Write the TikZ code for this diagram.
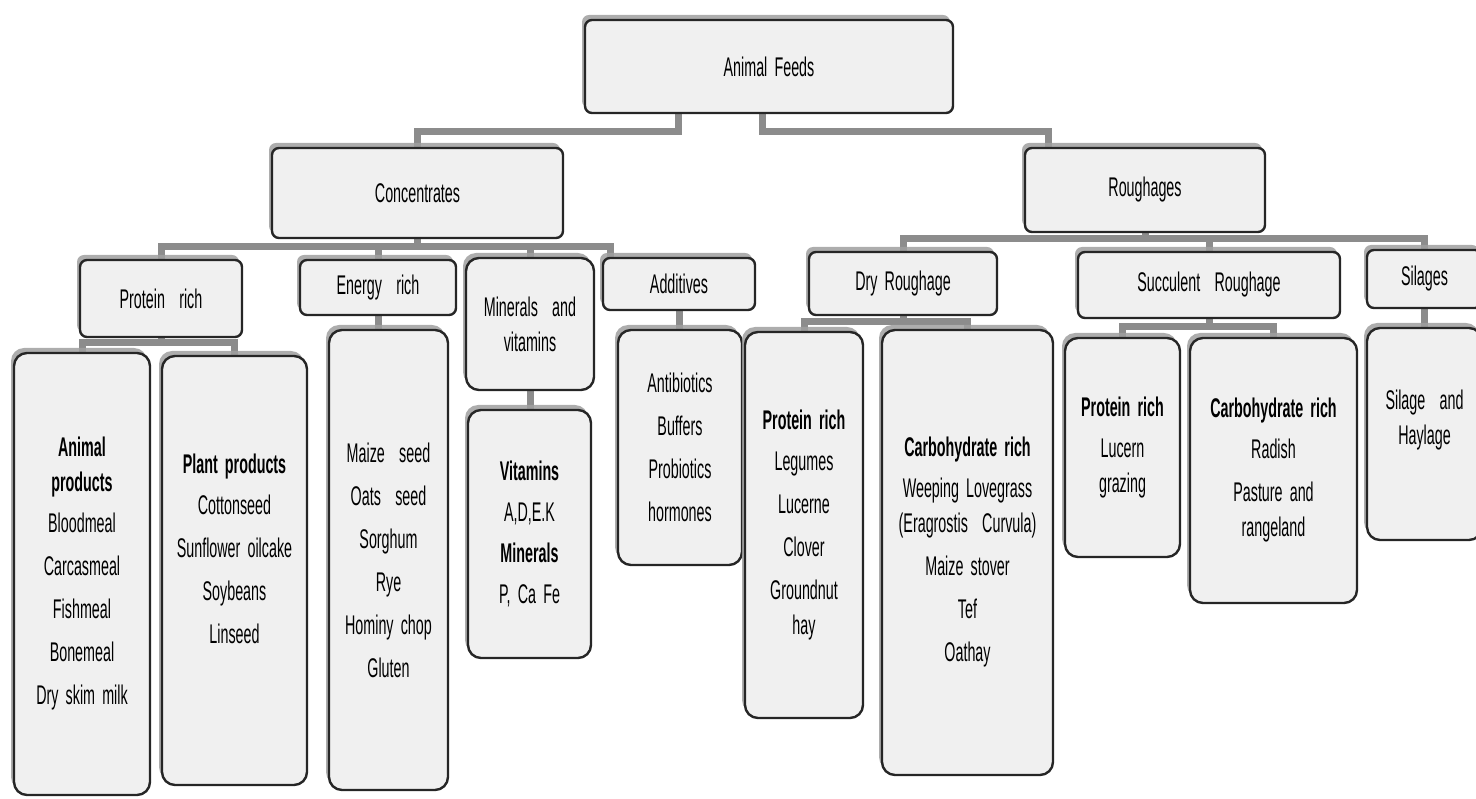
\documentclass[tikz,border=0pt]{standalone}
\usepackage{fontspec}
\setmainfont{Liberation Sans}[FakeStretch=0.53, WordSpace=1.8]
\usetikzlibrary{shadows,backgrounds}

\tikzset{
  boxsize/.style n args={2}{minimum width=#1, minimum height=#2}
}

\begin{document}
\begin{tikzpicture}[
    x=0.5pt, y=0.5pt,
    every node/.style={font=\fontsize{13.5}{17.5}\selectfont, align=center},
    headbox/.style={draw=black!85, line width=1.2pt, fill=gray!12, rounded corners=3.5pt,
      drop shadow={shadow xshift=-1.5pt, shadow yshift=2.5pt, fill=gray!75, opacity=.85}},
    itembox/.style={headbox, rounded corners=6.5pt},
    link/.style={draw=gray!90, line width=3.5pt}
  ]
  \useasboundingbox (0,0) rectangle (1476,798);
  \clip (0,0) rectangle (1476,798);

  % top levels
  \node[headbox, boxsize={184pt}{46.5pt}] (feeds) at (769, 731.5) {Animal Feeds};
  \node[headbox, boxsize={145.5pt}{45pt}] (conc) at (417.5, 605) {Concentrates};
  \node[headbox, boxsize={120pt}{42pt}] (rough) at (1145, 608) {Roughages};

  % feed groups
  \node[headbox, boxsize={81pt}{38.5pt}] (prot) at (161, 499.5) {Protein\ \ rich};
  \node[headbox, boxsize={78pt}{27.5pt}] (energy) at (378, 510.5) {Energy\ \ rich};
  \node[itembox, boxsize={64pt}{66pt}] (minvit) at (530, 474) {Minerals\ \ and\\vitamins};
  \node[headbox, boxsize={76pt}{26pt}] (addit) at (679, 514) {Additives};
  \node[headbox, boxsize={94pt}{31.5pt}] (dry) at (903, 514.5) {Dry Roughage};
  \node[headbox, boxsize={131pt}{33pt}] (succ) at (1209, 513) {Succulent\ \ Roughage};
  \node[headbox, boxsize={57.5pt}{29pt}] (sil) at (1424.5, 519) {Silages};

  % feed lists
  \node[itembox, boxsize={68pt}{221pt}] (animal) at (82, 224)
    {\textbf{Animal}\\\textbf{products}\\[3pt]Bloodmeal\\[4pt]Carcasmeal\\[4pt]Fishmeal\\[4pt]Bonemeal\\[4pt]Dry skim milk};
  \node[itembox, boxsize={72.5pt}{214.5pt}] (plant) at (234.5, 227.5) {};
  \node (plant_text) at (234.5, 249.5)
    {\textbf{Plant products}\\[3pt]Cottonseed\\[4pt]Sunflower oilcake\\[4pt]Soybeans\\[4pt]Linseed};
  \node[itembox, boxsize={59.5pt}{230pt}] (enitems) at (388.5, 238)
    {Maize\ \ seed\\[4pt]Oats\ \ seed\\[4pt]Sorghum\\[4pt]Rye\\[4pt]Hominy chop\\[4pt]Gluten};
  \node[itembox, boxsize={61.5pt}{124pt}] (vitmin) at (529.5, 264)
    {\textbf{Vitamins}\\[3pt]A,D,E.K\\[3pt]\textbf{Minerals}\\[3pt]P, Ca Fe};
  \node[itembox, boxsize={62pt}{117.5pt}] (additems) at (680, 350.5)
    {Antibiotics\\[4pt]Buffers\\[4pt]Probiotics\\[4pt]hormones};
  \node[itembox, boxsize={59pt}{193pt}] (dryprot) at (804, 273)
    {\textbf{Protein rich}\\[3pt]Legumes\\[4pt]Lucerne\\[4pt]Clover\\[4pt]Groundnut\\hay};
  \node[itembox, boxsize={85.5pt}{222.5pt}] (drycarb) at (967.5, 245.5)
    {\textbf{Carbohydrate rich}\\[3pt]Weeping Lovegrass\\(Eragrostis\ \ Curvula)\\[4pt]Maize stover\\[4pt]Tef\\[4pt]Oathay};
  \node[itembox, boxsize={57.5pt}{109.5pt}] (succprot) at (1122.5, 350.5)
    {\textbf{Protein rich}\\[3pt]Lucern\\grazing};
  \node[itembox, boxsize={83.5pt}{132.5pt}] (succcarb) at (1273.5, 327.5)
    {\textbf{Carbohydrate rich}\\[3pt]Radish\\[4pt]Pasture and\\rangeland};
  \node[itembox, boxsize={57.5pt}{106pt}] (silitems) at (1424.5, 364) {};
  \node (sil_text) at (1424.5, 378) {Silage\ \ and\\Haylage};

  % connectors
  \begin{scope}[on background layer]
    \draw[link] ([xshift=-45.5pt]feeds.south) -- ++(0,-17) -| (conc.north);
    \draw[link] ([xshift=-3.5pt]feeds.south) -- ++(0,-17) -| ([xshift=-48.5pt]rough.north);
    \foreach \child in {prot, energy, minvit}
      \draw[link] (conc.south) -- ++(0,-7) -| (\child.north);
    \draw[link] (conc.south) -- ++(0,-7) -| ([xshift=-34.5pt]addit.north);
    \foreach \child in {dry, succ, sil}
      \draw[link] (rough.south) -- ++(0,-5) -| (\child.north);
    \foreach \child in {animal, plant}
      \draw[link] (prot.south) -- ++(0,-4) -| (\child.north);
    \foreach \child in {dryprot, drycarb}
      \draw[link] (dry.south) -- ++(0,-5) -| (\child.north);
    \foreach \child in {succprot, succcarb}
      \draw[link] (succ.south) -- ++(0,-7) -| (\child.north);
    \draw[link] (energy.south) -- (energy.south |- enitems.north);
    \draw[link] (minvit.south) -- (minvit.south |- vitmin.north);
    \draw[link] (addit.south) -- (addit.south |- additems.north);
    \draw[link] (sil.south) -- (sil.south |- silitems.north);
  \end{scope}
\end{tikzpicture}
\end{document}
